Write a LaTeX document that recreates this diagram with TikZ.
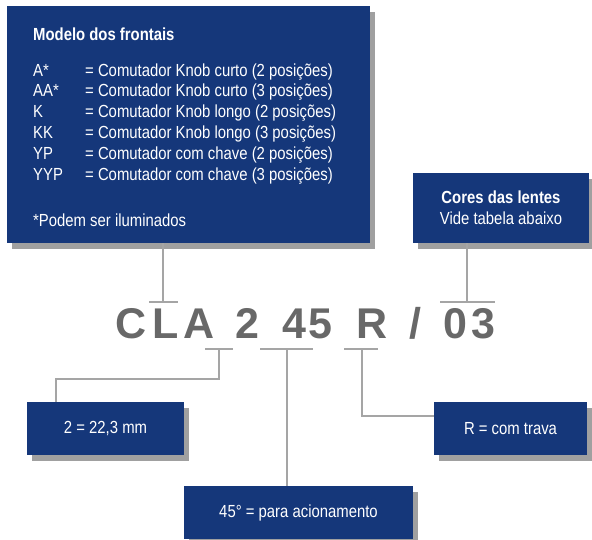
\documentclass[tikz,border=0pt]{standalone}
\usepackage{fontspec}
\setmainfont{Liberation Sans}
\newfontfamily\narrowfont[FakeStretch=0.85]{Liberation Sans}
\usetikzlibrary{shadows}
\definecolor{boxblue}{RGB}{21,55,122}
\definecolor{codegray}{RGB}{104,104,104}
\definecolor{linegray}{RGB}{165,165,165}
\definecolor{shadowgray}{RGB}{160,160,160}
\tikzset{
  infobox/.style={fill=boxblue, text=white, inner sep=0pt,
    drop shadow={shadow xshift=5pt, shadow yshift=-6pt, fill=shadowgray, opacity=1}},
  boxtext/.style={text=white, font=\narrowfont\fontsize{17.5}{21}\selectfont, inner sep=0pt},
  codechar/.style={text=codegray, font=\fontsize{43}{43}\selectfont\bfseries, inner sep=0pt, anchor=base},
  link/.style={draw=linegray, line width=1.3pt}
}
\newcommand{\barchar}{/}
\begin{document}
\begin{tikzpicture}[x=1pt, y=-1pt]
    \useasboundingbox (0,0) rectangle (592,539);
    % boxes
    \node[infobox, minimum width=363pt, minimum height=237pt] (frontais) at (188.5,124.5) {};
    \node[infobox, minimum width=176pt, minimum height=70pt] (lentes) at (501,208) {};
    \node[infobox, minimum width=157pt, minimum height=53pt] (diametro) at (105.5,428.5) {};
    \node[infobox, minimum width=229pt, minimum height=53pt] (angulo) at (298.5,512.5) {};
    \node[infobox, minimum width=153pt, minimum height=53pt] (trava) at (510.5,428.5) {};
    % texts of the boxes
    \node[boxtext, anchor=base west, font=\narrowfont\fontsize{17.5}{21}\selectfont\bfseries] (titulo) at (33,40) {Modelo dos frontais};
    \foreach \cod/\desc [count=\i] in {A*/Knob curto (2 posições), AA*/Knob curto (3 posições),
        K/Knob longo (2 posições), KK/Knob longo (3 posições),
        YP/com chave (2 posições), YYP/com chave (3 posições)} {
      \node[boxtext, anchor=base west] (cod\i) at (33,{76+20.8*(\i-1)}) {\cod};
      \node[boxtext, anchor=base west] (desc\i) at (85,{76+20.8*(\i-1)}) {= Comutador \desc};
    }
    \node[boxtext, anchor=base west] (nota) at (33,226) {*Podem ser iluminados};
    \node[boxtext, align=center] (lentestxt) at (lentes) {{\bfseries Cores das lentes}\\Vide tabela abaixo};
    \node[boxtext] at (diametro) {2 = 22,3 mm};
    \node[boxtext] at (angulo) {45° = para acionamento};
    \node[boxtext] at (trava) {R = com trava};
    % code
    \foreach \ch/\x in {C/131, L/166, A/199, 2/247, 4/294, 5/320, R/372, \barchar/415, 0/455, 3/483}
      \node[codechar] (c\x) at (\x,338) {\ch};
    % brackets
    \coordinate (t1) at (163,302);
    \coordinate (t2) at (467,302);
    \coordinate (b1) at (219,349);
    \coordinate (b2) at (287,349);
    \coordinate (b3) at (362,349);
    \draw[link] (149,302) -- (178,302);
    \draw[link] (440,302) -- (495,302);
    \draw[link] (205,349) -- (233,349);
    \draw[link] (260,349) -- (313,349);
    \draw[link] (344,349) -- (378,349);
    % connectors
    \draw[link] (frontais.south -| t1) -- (t1);
    \draw[link] (lentes.south -| t2) -- (t2);
    \draw[link] (b1) -- (219,379) -- (56,379) -- (diametro.north -| 56,0);
    \draw[link] (b2) -- (angulo.north -| b2);
    \draw[link] (b3) -- (362,416) -- (trava.west |- 0,416);
\end{tikzpicture}
\end{document}
